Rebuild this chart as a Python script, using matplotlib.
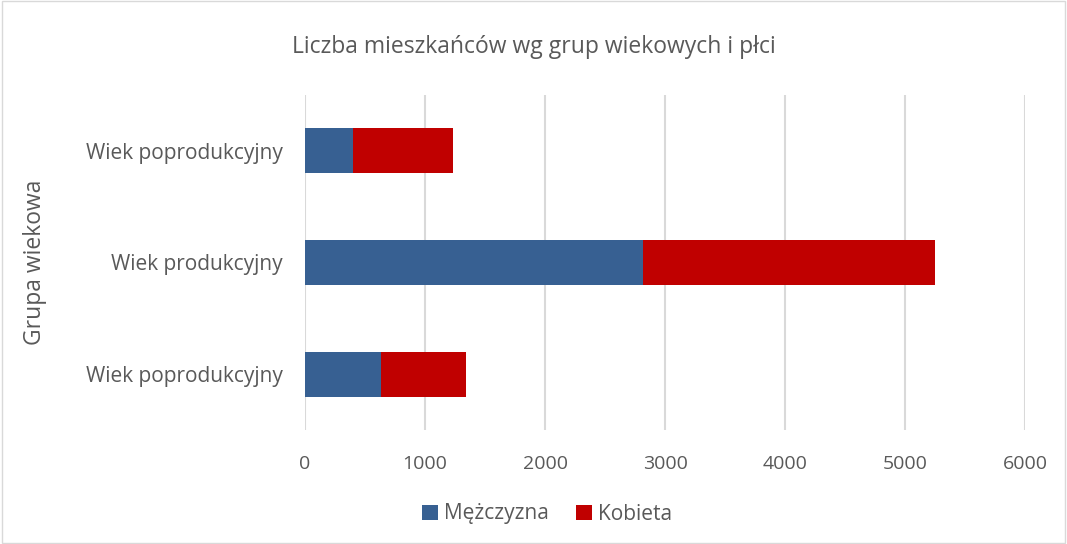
import matplotlib.pyplot as plt
import numpy as np

# dane (od dołu do góry)
grupy = ["Wiek poprodukcyjny", "Wiek produkcyjny", "Wiek poprodukcyjny"]
mezczyzna = [635, 2820, 400]
kobieta = [710, 2430, 830]

kolor_m = "#376092"
kolor_k = "#C00000"
szary = "#595959"

plt.rcParams['font.family'] = ['Open Sans', 'DejaVu Sans']

fig = plt.figure(figsize=(10.67, 5.44), dpi=100)
ax = fig.add_axes([305 / 1067, 1 - 430 / 544, 720 / 1067, 335 / 544])

y_pos = np.arange(len(grupy))
ax.barh(y_pos, mezczyzna, height=0.4, color=kolor_m, label="Mężczyzna", zorder=3)
ax.barh(y_pos, kobieta, height=0.4, left=mezczyzna, color=kolor_k, label="Kobieta", zorder=3)

ax.set_xlim(0, 6000)
ax.set_ylim(-0.5, 2.5)
ax.set_xticks(np.arange(0, 6001, 1000))
ax.set_yticks(y_pos)
ax.set_yticklabels(grupy)
ax.tick_params(axis='both', length=0, colors=szary)
ax.tick_params(axis='x', pad=18, labelsize=14)
ax.tick_params(axis='y', pad=16, labelsize=15)
ax.grid(axis='x', color="#D9D9D9", linewidth=1.5, zorder=0)
for s in ax.spines.values():
    s.set_visible(False)

fig.text(35 / 1067, 1 - 262 / 544, "Grupa wiekowa", rotation=90,
         ha='center', va='center', fontsize=16.5, color=szary)
fig.text(0.5, 1 - 47 / 544, "Liczba mieszkańców wg grup wiekowych i płci",
         ha='center', va='center', fontsize=16.5, color=szary)

fig.legend(loc='center', bbox_to_anchor=(0.513, 1 - 514 / 544), ncol=2, frameon=False,
           fontsize=15, labelcolor=szary, handlelength=0.75, handleheight=0.75,
           handletextpad=0.3, columnspacing=1.3)

fig.patches.append(plt.Rectangle((0.002, 0.002), 0.996, 0.996, transform=fig.transFigure,
                                 fill=False, edgecolor="#D9D9D9", linewidth=1))

fig.savefig("out.png", dpi=100)
